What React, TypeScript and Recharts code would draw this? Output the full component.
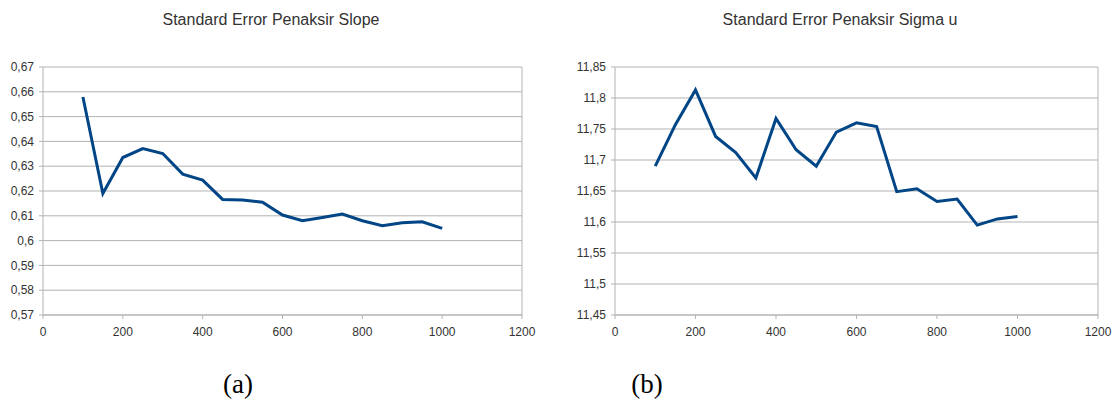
import React from "react";
import { LineChart, Line, XAxis, YAxis, CartesianGrid, ReferenceLine } from "recharts";

const sampleSizes = [100, 150, 200, 250, 300, 350, 400, 450, 500, 550, 600, 650, 700, 750, 800, 850, 900, 950, 1000];
const seSlope = [0.6579, 0.619, 0.6335, 0.6371, 0.6351, 0.6268, 0.6244, 0.6166, 0.6164, 0.6155, 0.6103, 0.608, 0.6093, 0.6107, 0.608, 0.606, 0.6072, 0.6076, 0.6049];
const seSigmaU = [11.69, 11.757, 11.813, 11.738, 11.712, 11.671, 11.767, 11.7165, 11.69, 11.745, 11.76, 11.754, 11.649, 11.6535, 11.633, 11.637, 11.595, 11.605, 11.609];
const xTicks = [0, 200, 400, 600, 800, 1000, 1200];
const yTicksSlope = [0.57, 0.58, 0.59, 0.6, 0.61, 0.62, 0.63, 0.64, 0.65, 0.66, 0.67];
const yTicksSigma = [11.45, 11.5, 11.55, 11.6, 11.65, 11.7, 11.75, 11.8, 11.85];

const slopeData = sampleSizes.map((n, i) => ({ n, v: seSlope[i] }));
const sigmaData = sampleSizes.map((n, i) => ({ n, v: seSigmaU[i] }));

const GRID = "#b3b3b3";
const TEXT = "#333333";
const LINE = "#004586";
const FONT = "'Liberation Sans', Arial, sans-serif";

const fmt = (v: number) => String(v).replace(".", ",");

function Panel({
  data,
  yTicks,
  width,
  yWidth,
  right,
}: {
  data: { n: number; v: number }[];
  yTicks: number[];
  width: number;
  yWidth: number;
  right: number;
}) {
  const tick = { fill: TEXT, fontSize: 12, fontFamily: FONT };
  return (
    <LineChart width={width} height={340} data={data} margin={{ top: 67, right, left: 0, bottom: 0 }}>
      <CartesianGrid stroke={GRID} vertical={false} />
      <XAxis
        dataKey="n"
        type="number"
        domain={[0, 1200]}
        ticks={xTicks}
        tick={tick}
        tickSize={4}
        tickMargin={8}
        height={25}
        stroke={GRID}
      />
      <YAxis
        type="number"
        domain={[yTicks[0], yTicks[yTicks.length - 1]]}
        ticks={yTicks}
        tickFormatter={fmt}
        tick={tick}
        tickSize={4}
        tickMargin={5}
        width={yWidth}
        stroke={GRID}
        interval={0}
      />
      <ReferenceLine x={1200} stroke={GRID} />
      <Line
        type="linear"
        dataKey="v"
        stroke={LINE}
        strokeWidth={3}
        dot={false}
        isAnimationActive={false}
      />
    </LineChart>
  );
}

export default function App() {
  const title: React.CSSProperties = {
    position: "absolute",
    top: 11,
    fontFamily: FONT,
    fontSize: 16,
    color: TEXT,
    transform: "translateX(-50%)",
    whiteSpace: "nowrap",
  };
  const cap: React.CSSProperties = {
    position: "absolute",
    top: 369,
    fontFamily: "'Liberation Serif', 'Times New Roman', serif",
    fontSize: 27,
    color: "#000",
    transform: "translateX(-50%)",
  };
  return (
    <div style={{ position: "absolute", left: 0, top: 0, width: 1114, height: 401, background: "#fff" }}>
      <div style={{ position: "absolute", left: 0, top: 0 }}>
        <Panel data={slopeData} yTicks={yTicksSlope} width={557} yWidth={43} right={35} />
      </div>
      <div style={{ position: "absolute", left: 557, top: 0 }}>
        <Panel data={sigmaData} yTicks={yTicksSigma} width={557} yWidth={58} right={16} />
      </div>
      <div style={{ ...title, left: 271 }}>Standard Error Penaksir Slope</div>
      <div style={{ ...title, left: 840 }}>Standard Error Penaksir Sigma u</div>
      <div style={{ ...cap, left: 238 }}>(a)</div>
      <div style={{ ...cap, left: 647 }}>(b)</div>
    </div>
  );
}
